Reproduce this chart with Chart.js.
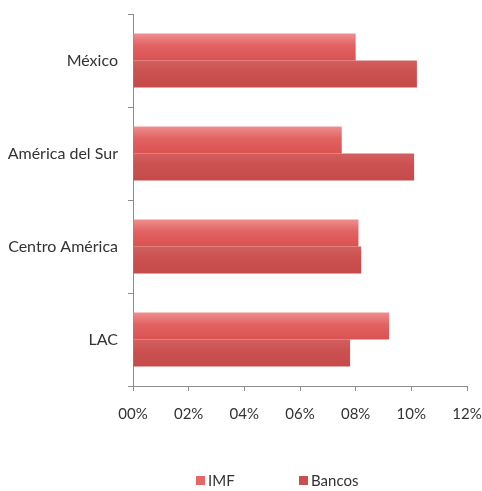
<!DOCTYPE html>
<html>
<head>
<meta charset="utf-8">
<script src="https://cdn.jsdelivr.net/npm/chart.js@4/dist/chart.umd.min.js"></script>
<style>
  html, body { margin: 0; padding: 0; background: #fff; }
  #wrap { width: 482px; height: 491px; }
</style>
</head>
<body>
<div id="wrap"><canvas id="barChart" width="482" height="491"></canvas></div>
<script>
const regions = ['México', 'América del Sur', 'Centro América', 'LAC'];
const imfValues = [8.0, 7.5, 8.1, 9.2];
const bancosValues = [10.2, 10.1, 8.2, 7.8];
const xTicks = [0, 2, 4, 6, 8, 10, 12];

const fontFamily = "Lato, 'Open Sans', sans-serif";
const textColor = '#333';

// top-to-bottom shading of each series' bars
const shades = [
    ['#ef8e8e', '#e26262', '#da5252'],
    ['#d35f5f', '#cb5050', '#c54b4b']
];

const barShading = {
    id: 'barShading',
    beforeDatasetsDraw(chart) {
        const c = chart.ctx;
        chart.data.datasets.forEach((ds, i) => {
            chart.getDatasetMeta(i).data.forEach(el => {
                const top = el.y - el.height / 2;
                const g = c.createLinearGradient(0, top, 0, top + el.height);
                g.addColorStop(0, shades[i][0]);
                g.addColorStop(0.45, shades[i][1]);
                g.addColorStop(1, shades[i][2]);
                el.options = Object.assign({}, el.options, { backgroundColor: g });
            });
        });
    }
};

// legend drawn under the plot, items spaced out like the original
const spacedLegend = {
    id: 'spacedLegend',
    afterDraw(chart) {
        const c = chart.ctx;
        const y = 481;
        const starts = [196, 299];
        c.save();
        c.font = '15px ' + fontFamily;
        c.textBaseline = 'middle';
        chart.data.datasets.forEach((ds, i) => {
            const x = starts[i];
            c.fillStyle = ds.backgroundColor;
            c.fillRect(x, y - 5, 9, 9);
            c.fillStyle = textColor;
            c.fillText(ds.label, x + 12, y);
        });
        c.restore();
    }
};

const ctx = document.getElementById('barChart').getContext('2d');
const barChart = new Chart(ctx, {
    type: 'bar',
    data: {
        labels: regions,
        datasets: [
            {
                label: 'IMF',
                data: imfValues,
                backgroundColor: '#e56767',
                borderWidth: 0,
                categoryPercentage: 0.58,
                barPercentage: 1.0
            },
            {
                label: 'Bancos',
                data: bancosValues,
                backgroundColor: '#ca4f4f',
                borderWidth: 0,
                categoryPercentage: 0.58,
                barPercentage: 1.0
            }
        ]
    },
    plugins: [barShading, spacedLegend],
    options: {
        indexAxis: 'y',
        responsive: false,
        animation: false,
        layout: { padding: { top: 14, right: 0, bottom: 47, left: 0 } },
        plugins: {
            legend: { display: false },
            tooltip: { enabled: false }
        },
        scales: {
            x: {
                min: 0,
                max: 12,
                afterBuildTicks: axis => { axis.ticks = xTicks.map(v => ({ value: v })); },
                afterFit: axis => {
                    axis.height = 58;
                    axis.paddingLeft = 0;
                    axis.paddingRight = 15;
                },
                border: { display: true, color: '#8c8c8c', width: 1 },
                grid: { drawOnChartArea: false, drawTicks: true, tickLength: 5, color: '#8c8c8c' },
                ticks: {
                    padding: 14,
                    color: textColor,
                    font: { family: fontFamily, size: 15 },
                    callback: value => String(value).padStart(2, '0') + '%'
                }
            },
            y: {
                afterFit: axis => {
                    axis.width = 133;
                    axis.paddingTop = 0;
                    axis.paddingBottom = 0;
                },
                border: { display: true, color: '#8c8c8c', width: 1 },
                grid: { drawOnChartArea: false, drawTicks: true, tickLength: 5, color: '#8c8c8c', offset: true },
                ticks: {
                    padding: 10,
                    color: textColor,
                    font: { family: fontFamily, size: 16 }
                }
            }
        }
    }
});
</script>
</body>
</html>
